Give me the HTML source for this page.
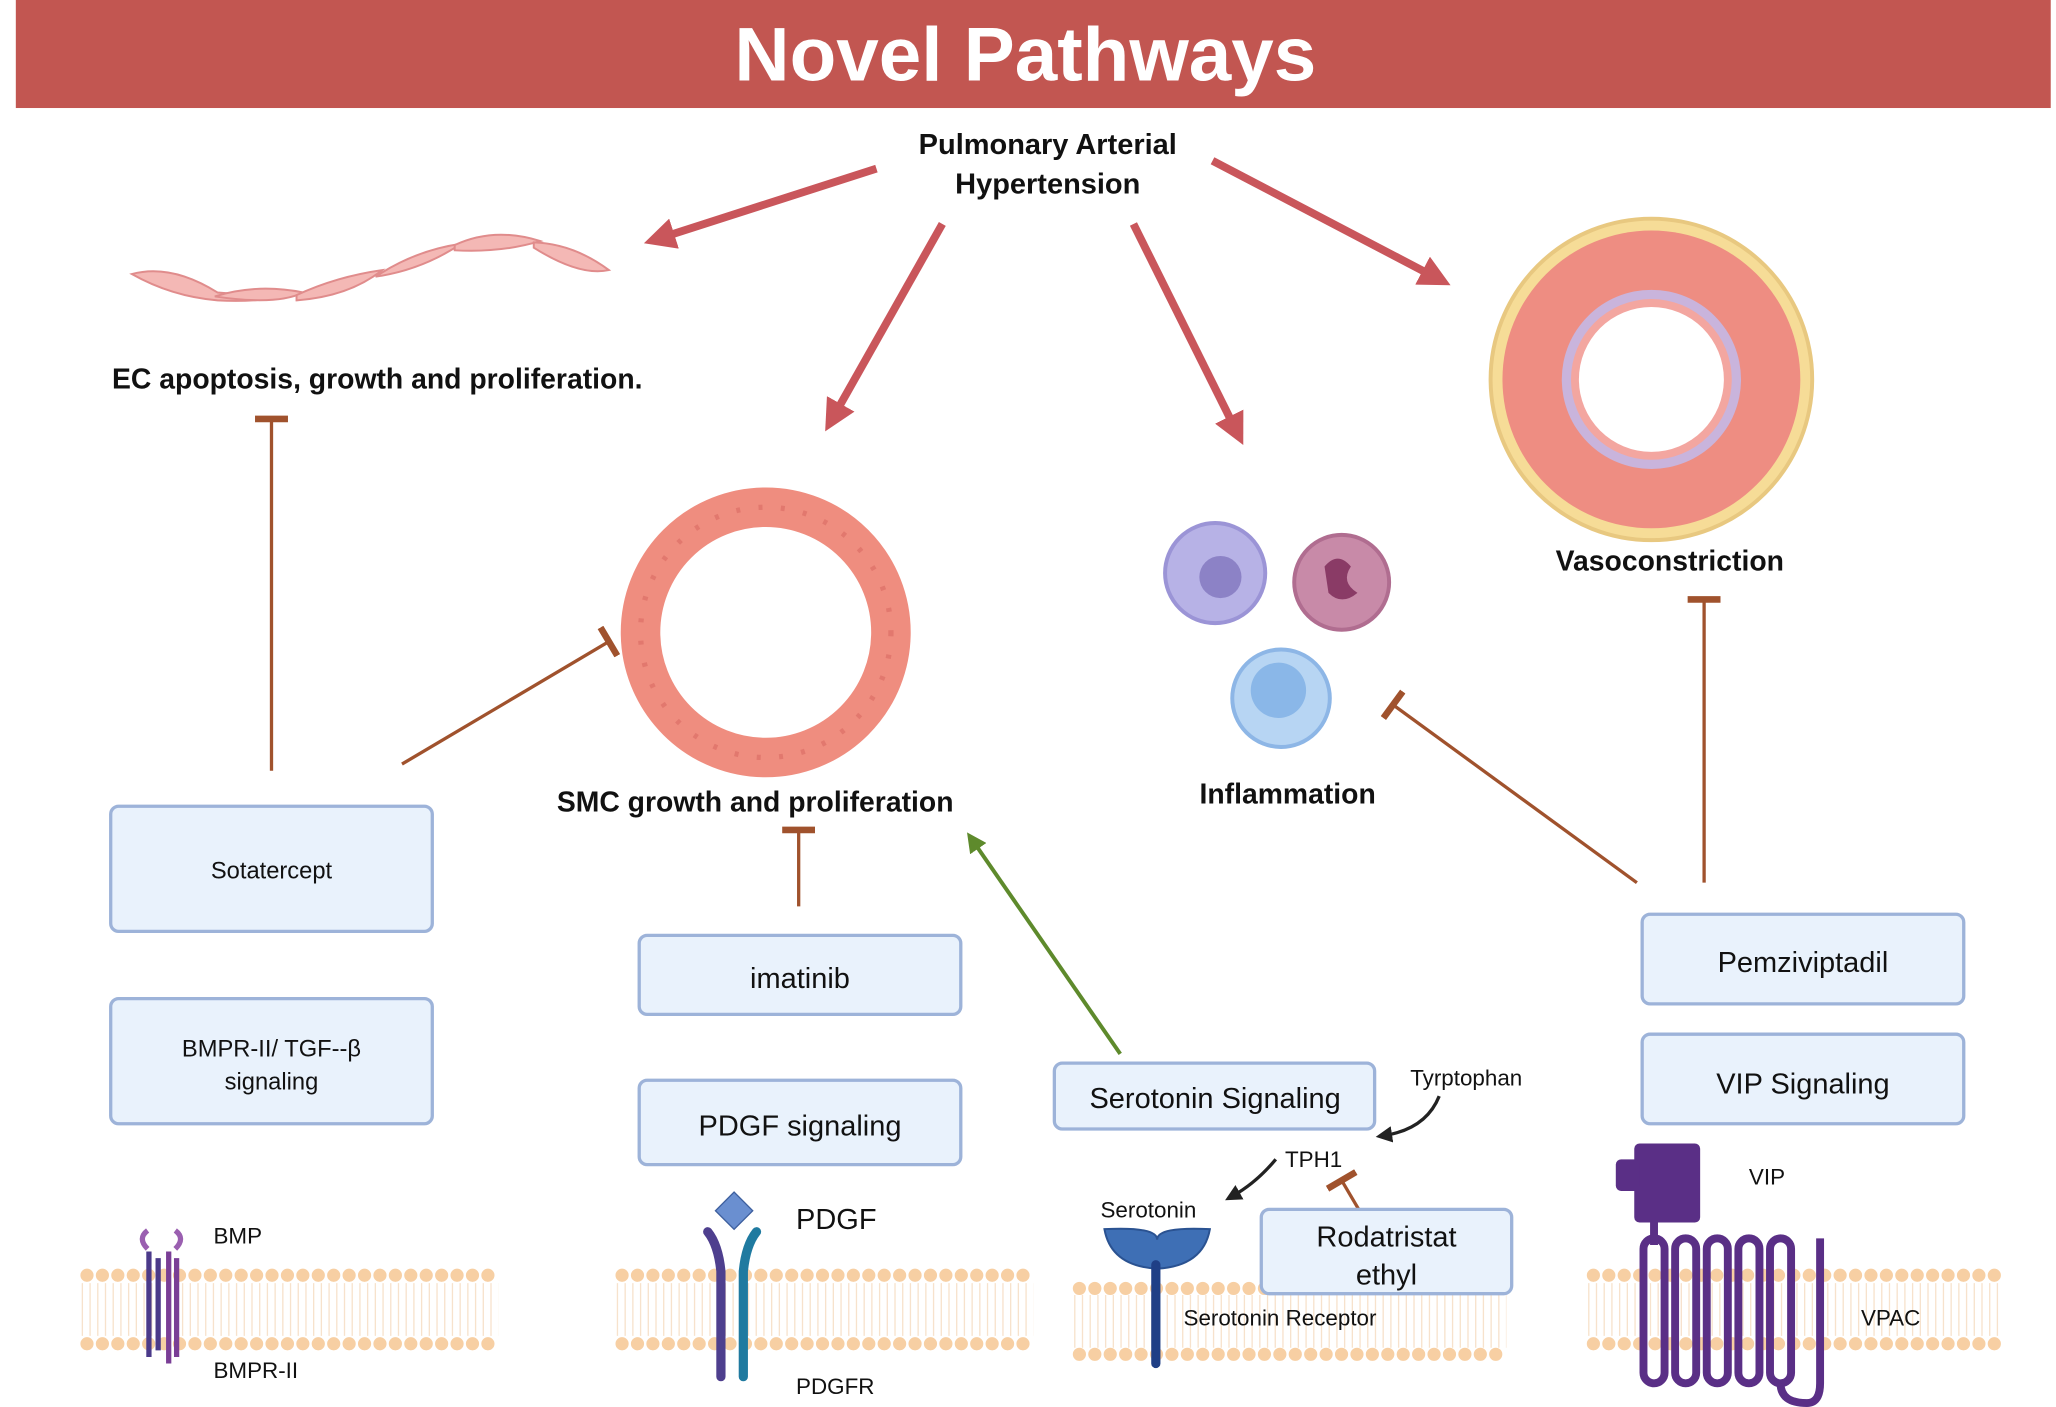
<!DOCTYPE html>
<html><head><meta charset="utf-8"><style>
html,body{margin:0;padding:0;background:#fff}
svg{display:block}
text{font-family:"Liberation Sans",sans-serif;fill:#111}
</style></head><body>
<svg width="2056" height="1407" viewBox="0 0 1560 1068" preserveAspectRatio="none" xmlns="http://www.w3.org/2000/svg">
<defs>
<marker id="ar" viewBox="0 0 10 10" refX="5" refY="5" markerWidth="4" markerHeight="4" orient="auto"><path d="M0,0 L10,5 L0,10z" fill="#c4444a"/></marker>
<marker id="ag" viewBox="0 0 10 10" refX="5" refY="5" markerWidth="5" markerHeight="5" orient="auto"><path d="M0,0 L10,5 L0,10z" fill="#5e8a2c"/></marker>
<marker id="ab" viewBox="0 0 10 10" refX="5" refY="5" markerWidth="5" markerHeight="5" orient="auto"><path d="M0,0 L10,5 L0,10z" fill="#222"/></marker>
<marker id="tb" viewBox="0 0 10 10" refX="5" refY="5" markerWidth="10" markerHeight="10" orient="auto"><path d="M5,0 L5,10" stroke="#a0522d" stroke-width="2"/></marker>
</defs>
<rect x="12" y="0" width="1544" height="82" fill="#c25651"/>
<text x="778" y="61" text-anchor="middle" font-size="58" font-weight="bold" style="fill:#fff">Novel Pathways</text>
<text x="795" y="117" text-anchor="middle" font-size="22" font-weight="bold">Pulmonary Arterial</text>
<text x="795" y="147" text-anchor="middle" font-size="22" font-weight="bold">Hypertension</text>
<g stroke="#c4444a" stroke-width="6" fill="none" opacity="0.9">
<line x1="665" y1="128" x2="500" y2="181" marker-end="url(#ar)"/>
<line x1="715" y1="170" x2="632" y2="317" marker-end="url(#ar)"/>
<line x1="860" y1="170" x2="938" y2="327" marker-end="url(#ar)"/>
<line x1="920" y1="122" x2="1090" y2="211" marker-end="url(#ar)"/>
</g>
<g fill="#f4b8b5" stroke="#e08c8c" stroke-width="1.5">
<path d="M100,208 Q130,200 165,222 Q200,225 230,222 Q200,230 165,228 Q130,225 100,208z"/>
<path d="M163,225 Q195,215 230,222 Q210,232 163,225z"/>
<path d="M225,224 Q255,210 290,205 Q265,225 225,228z"/>
<path d="M285,210 Q315,190 350,185 Q320,205 285,210z"/>
<path d="M345,186 Q375,172 410,183 Q380,192 345,190z"/>
<path d="M405,184 Q435,185 462,205 Q440,210 405,188z"/>
</g>
<text x="85" y="295" font-size="21.5" font-weight="bold">EC apoptosis, growth and proliferation.</text>
<g stroke="#a0522d" stroke-width="2.5" fill="none">
<line x1="206" y1="585" x2="206" y2="318" marker-end="url(#tb)"/>
<line x1="305" y1="580" x2="462" y2="487" marker-end="url(#tb)"/>
<line x1="606" y1="688" x2="606" y2="630" marker-end="url(#tb)"/>
<line x1="1242" y1="670" x2="1057" y2="535" marker-end="url(#tb)"/>
<line x1="1293" y1="670" x2="1293" y2="455" marker-end="url(#tb)"/>
<line x1="1038" y1="930" x2="1018" y2="896" marker-end="url(#tb)"/>
</g>
<circle cx="581" cy="480" r="95" fill="none" stroke="#ef8d7f" stroke-width="30"/>
<circle cx="581" cy="480" r="95" fill="none" stroke="#d96a62" stroke-width="4" stroke-dasharray="3 14" opacity="0.6"/>
<text x="573" y="616" text-anchor="middle" font-size="21.5" font-weight="bold">SMC growth and proliferation</text>
<circle cx="922" cy="435" r="38" fill="#b7b2e6" stroke="#9b94d6" stroke-width="3"/>
<circle cx="926" cy="438" r="16" fill="#8c82c6"/>
<circle cx="1018" cy="442" r="36" fill="#c88aa8" stroke="#b06d90" stroke-width="3"/>
<path d="M1005,430 q10,-12 20,0 q-8,12 5,20 q-12,10 -22,0z" fill="#8a3b66"/>
<circle cx="972" cy="530" r="37" fill="#b7d5f3" stroke="#8db6e6" stroke-width="3"/>
<circle cx="970" cy="524" r="21" fill="#8ab7e8"/>
<text x="977" y="610" text-anchor="middle" font-size="21.5" font-weight="bold">Inflammation</text>
<circle cx="1253" cy="288" r="122" fill="#f6dc97" stroke="#e8c880" stroke-width="3"/>
<circle cx="1253" cy="288" r="113" fill="#ee8d82"/>
<circle cx="1253" cy="288" r="68" fill="#c9b4dc"/>
<circle cx="1253" cy="288" r="61" fill="#f3a6a0"/>
<circle cx="1253" cy="288" r="55" fill="#fff"/>
<text x="1267" y="433" text-anchor="middle" font-size="21.5" font-weight="bold">Vasoconstriction</text>
<g fill="#e9f2fc" stroke="#9db3d9" stroke-width="2.5">
<rect x="84" y="612" width="244" height="95" rx="6"/>
<rect x="84" y="758" width="244" height="95" rx="6"/>
<rect x="485" y="710" width="244" height="60" rx="6"/>
<rect x="485" y="820" width="244" height="64" rx="6"/>
<rect x="800" y="807" width="243" height="50" rx="6"/>
<rect x="1246" y="694" width="244" height="68" rx="6"/>
<rect x="1246" y="785" width="244" height="68" rx="6"/>
</g>
<text x="206" y="667" text-anchor="middle" font-size="18">Sotatercept</text>
<text x="206" y="802" text-anchor="middle" font-size="18">BMPR-II/ TGF--β</text>
<text x="206" y="827" text-anchor="middle" font-size="18">signaling</text>
<text x="607" y="750" text-anchor="middle" font-size="22">imatinib</text>
<text x="607" y="862" text-anchor="middle" font-size="22">PDGF signaling</text>
<text x="922" y="841" text-anchor="middle" font-size="22">Serotonin Signaling</text>
<text x="1368" y="738" text-anchor="middle" font-size="22">Pemziviptadil</text>
<text x="1368" y="830" text-anchor="middle" font-size="22">VIP Signaling</text>
<line x1="850" y1="800" x2="738" y2="638" stroke="#5e8a2c" stroke-width="3" marker-end="url(#ag)"/>
<g stroke="#f7cfa3" stroke-linecap="round" stroke-width="10" stroke-dasharray="0 11.7">
<line x1="66" y1="968" x2="378" y2="968"/><line x1="66" y1="1020" x2="378" y2="1020"/>
<line x1="472" y1="968" x2="784" y2="968"/><line x1="472" y1="1020" x2="784" y2="1020"/>
<line x1="819" y1="978" x2="1143" y2="978"/><line x1="819" y1="1028" x2="1143" y2="1028"/>
<line x1="1209" y1="968" x2="1520" y2="968"/><line x1="1209" y1="1020" x2="1520" y2="1020"/>
</g>
<g stroke="#f7e2cc" stroke-width="1" stroke-dasharray="1 4.85">
<line x1="62" y1="994" x2="378" y2="994" stroke-width="40"/>
<line x1="468" y1="994" x2="784" y2="994" stroke-width="40"/>
<line x1="815" y1="1003" x2="1143" y2="1003" stroke-width="40"/>
<line x1="1205" y1="994" x2="1520" y2="994" stroke-width="40"/>
</g>
<g fill="none" stroke-width="4">
<path d="M112,948 q-8,-8 0,-14 M133,948 q8,-8 0,-14" stroke="#9a5fb0"/>
<path d="M113,950 V1030 M120,955 V1025" stroke="#4b3a8a"/>
<path d="M128,950 V1035 M134,955 V1030" stroke="#7a3e96"/>
</g>
<text x="162" y="944" font-size="17">BMP</text>
<text x="162" y="1046" font-size="17">BMPR-II</text>
<rect x="547" y="909" width="20" height="20" fill="#6a8fd0" stroke="#3d5f9e" transform="rotate(45 557 919)"/>
<path d="M537,935 q8,10 10,30 V1045" stroke="#4e3f8e" stroke-width="7" fill="none" stroke-linecap="round"/>
<path d="M574,935 q-8,10 -10,30 V1045" stroke="#1f7aa0" stroke-width="7" fill="none" stroke-linecap="round"/>
<text x="604" y="933" font-size="22">PDGF</text>
<text x="604" y="1058" font-size="17">PDGFR</text>
<path d="M838,933 q40,-2 40,8 q0,-10 40,-8 q-5,28 -40,30 q-35,-2 -40,-30z" fill="#3e6fb5" stroke="#2a5291" stroke-width="1.5"/>
<line x1="877" y1="960" x2="877" y2="1035" stroke="#1f3f86" stroke-width="7" stroke-linecap="round"/>
<text x="835" y="924" font-size="17">Serotonin</text>
<text x="898" y="1006" font-size="17">Serotonin Receptor</text>
<text x="975" y="886" font-size="17">TPH1</text>
<text x="1070" y="824" font-size="17">Tyrptophan</text>
<path d="M1092,832 q-10,25 -42,30" stroke="#222" stroke-width="2.5" fill="none" marker-end="url(#ab)"/>
<path d="M968,880 q-15,18 -33,28" stroke="#222" stroke-width="2.5" fill="none" marker-end="url(#ab)"/>
<rect x="957" y="918" width="190" height="64" rx="6" fill="#e9f2fc" stroke="#9db3d9" stroke-width="2.5"/>
<text x="1052" y="946" text-anchor="middle" font-size="22">Rodatristat</text>
<text x="1052" y="975" text-anchor="middle" font-size="22">ethyl</text>
<rect x="1240" y="868" width="50" height="60" rx="4" fill="#5a2f86"/>
<rect x="1226" y="880" width="18" height="24" rx="4" fill="#5a2f86"/>
<g fill="none" stroke="#5a2f86" stroke-width="6">
<rect x="1247" y="940" width="16" height="110" rx="8"/>
<rect x="1271" y="940" width="16" height="110" rx="8"/>
<rect x="1295" y="940" width="16" height="110" rx="8"/>
<rect x="1319" y="940" width="16" height="110" rx="8"/>
<rect x="1343" y="940" width="16" height="110" rx="8"/>
<path d="M1255,928 V945 M1351,1050 q0,15 20,15 q10,0 10,-15 V940"/>
</g>
<text x="1327" y="899" font-size="17">VIP</text>
<text x="1412" y="1006" font-size="17">VPAC</text>
</svg>
</body></html>
